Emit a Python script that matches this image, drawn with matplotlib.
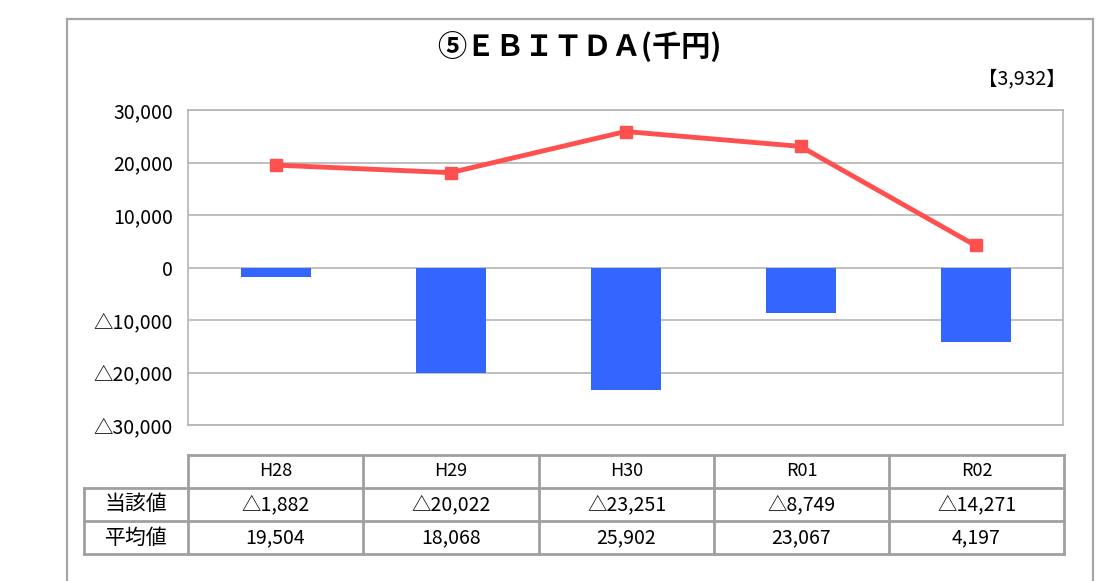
import matplotlib
matplotlib.use('Agg')
import matplotlib.pyplot as plt
import numpy as np

plt.rcParams['font.family'] = ['Noto Sans CJK JP', 'DejaVu Sans']

years = ['H28', 'H29', 'H30', 'R01', 'R02']
current = [-1882, -20022, -23251, -8749, -14271]
average = [19504, 18068, 25902, 23067, 4197]
row_labels = ['当該値', '平均値']
title = '⑤ＥＢＩＴＤＡ(千円)'
note = '【3,932】'

BLUE = '#3366FF'
RED = '#FF5050'
GRID = '#B4B4B4'


def fmt(v):
    s = '{:,}'.format(abs(int(v)))
    return ('△' + s) if v < 0 else s


W, H = 1116, 581
fig = plt.figure(figsize=(W / 100, H / 100), dpi=100)

# overlay in pixel coordinates for frame, title and table
ov = fig.add_axes([0, 0, 1, 1])
ov.set_xlim(0, W)
ov.set_ylim(H, 0)
ov.axis('off')

lc = '#A6A6A6'
ov.plot([67, 67], [19, H], color=lc, lw=1.6)
ov.plot([67, 1093], [19, 19], color=lc, lw=1.6)
ov.plot([1093, 1093], [19, H], color=lc, lw=1.6)

ov.text(579, 46, title, ha='center', va='center', fontsize=21, fontweight='bold')
ov.text(1066, 79, note, ha='right', va='center', fontsize=14)

# main chart
ax = fig.add_axes([188 / W, 1 - 425 / H, (1063 - 188) / W, (425 - 110) / H])
x = np.arange(len(years))
ax.bar(x, current, width=0.4, color=BLUE, zorder=3)
ax.plot(x, average, color=RED, lw=3.5, marker='s', markersize=9, zorder=4)
ax.set_xlim(-0.5, len(years) - 0.5)
ax.set_ylim(-30000, 30000)
ticks = np.arange(-30000, 30001, 10000)
ax.set_yticks(ticks)
ax.set_yticklabels([fmt(t) for t in ticks], fontsize=14)
ax.set_xticks([])
ax.tick_params(axis='y', length=0, pad=11)
ax.grid(axis='y', color=GRID, lw=1.2, zorder=0)
for s in ax.spines.values():
    s.set_color(GRID)
    s.set_linewidth(1.2)

# data table below
col_edges = [188, 363, 539, 714, 889, 1064]
row_edges = [455, 488, 521, 554]
left_edge = 84
tc = '#A0A0A0'
tw = 2.0
# horizontal lines
ov.plot([188, 1064], [row_edges[0]] * 2, color=tc, lw=tw)
for yy in row_edges[1:]:
    ov.plot([left_edge, 1064], [yy, yy], color=tc, lw=tw)
# vertical lines
ov.plot([left_edge, left_edge], [row_edges[1], row_edges[3]], color=tc, lw=tw)
for xx in col_edges:
    ov.plot([xx, xx], [row_edges[0], row_edges[3]], color=tc, lw=tw)

for i, yr in enumerate(years):
    cx = (col_edges[i] + col_edges[i + 1]) / 2
    ov.text(cx, (row_edges[0] + row_edges[1]) / 2, yr, ha='center', va='center', fontsize=13)
    ov.text(cx, (row_edges[1] + row_edges[2]) / 2, fmt(current[i]), ha='center', va='center', fontsize=14)
    ov.text(cx, (row_edges[2] + row_edges[3]) / 2, fmt(average[i]), ha='center', va='center', fontsize=14)
for j, lab in enumerate(row_labels):
    ov.text((left_edge + 188) / 2, (row_edges[j + 1] + row_edges[j + 2]) / 2, lab,
            ha='center', va='center', fontsize=15)

fig.savefig('out.png', dpi=100)
plt.close(fig)
